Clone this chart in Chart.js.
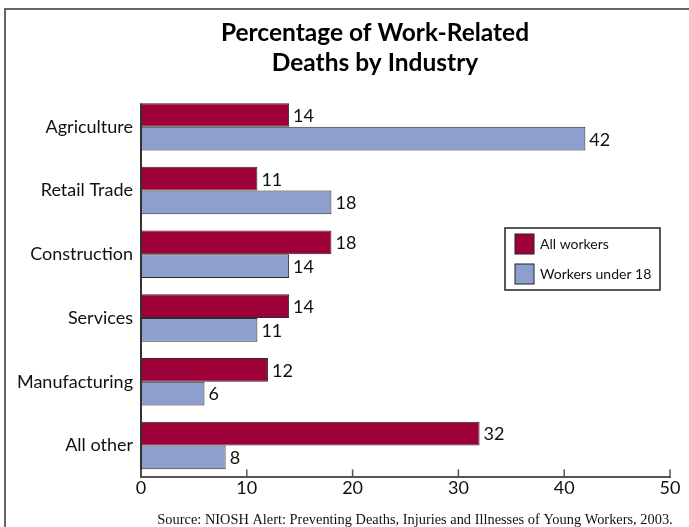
<!DOCTYPE html>
<html>
<head>
<meta charset="utf-8">
<script src="https://cdn.jsdelivr.net/npm/chart.js@4/dist/chart.umd.min.js"></script>
<style>
  html, body { margin: 0; padding: 0; background: #fff; }
  #wrap { width: 689px; height: 527px; position: relative; }
</style>
</head>
<body>
<div id="wrap"><canvas id="deathChart"></canvas></div>
<script>
const categories = ['Agriculture', 'Retail Trade', 'Construction', 'Services', 'Manufacturing', 'All other'];
const allWorkers = [14, 11, 18, 14, 12, 32];
const workersUnder18 = [42, 18, 14, 11, 6, 8];
const xTicks = [0, 10, 20, 30, 40, 50];

const titleLines = ['Percentage of Work-Related', 'Deaths by Industry'];
const sourceText = 'Source: NIOSH Alert: Preventing Deaths, Injuries and Illnesses of Young Workers, 2003.';

const FONT = 'Lato, "Open Sans", sans-serif';

// frame, title, legend, value labels, axis bits
const decor = {
  id: 'decor',
  beforeDraw(chart) {
    const ctx = chart.ctx;
    ctx.save();
    ctx.strokeStyle = '#666';
    ctx.lineWidth = 2;
    ctx.beginPath();
    ctx.moveTo(5, chart.height);
    ctx.lineTo(5, 9);
    ctx.lineTo(chart.width, 9);
    ctx.stroke();
    ctx.restore();
  },
  afterDatasetsDraw(chart) {
    const ctx = chart.ctx;
    const xs = chart.scales.x;
    const area = chart.chartArea;
    ctx.save();

    // values next to bars
    ctx.font = '18px ' + FONT;
    ctx.fillStyle = '#111';
    ctx.textBaseline = 'middle';
    ctx.textAlign = 'left';
    chart.data.datasets.forEach((ds, i) => {
      chart.getDatasetMeta(i).data.forEach((bar, j) => {
        ctx.fillText(ds.data[j], bar.x + 4, bar.y + 1);
      });
    });

    // y axis line starting at first bar
    const first = chart.getDatasetMeta(0).data[0];
    const x0 = xs.getPixelForValue(0);
    ctx.strokeStyle = '#333';
    ctx.lineWidth = 2;
    ctx.beginPath();
    ctx.moveTo(x0, first.y - first.height / 2);
    ctx.lineTo(x0, area.bottom);
    ctx.stroke();

    // tick marks pointing up
    ctx.strokeStyle = '#555';
    ctx.lineWidth = 1.5;
    xs.ticks.forEach(t => {
      const px = xs.getPixelForValue(t.value);
      ctx.beginPath();
      ctx.moveTo(px, area.bottom);
      ctx.lineTo(px, area.bottom - 8);
      ctx.stroke();
    });
    ctx.restore();
  },
  afterDraw(chart) {
    const ctx = chart.ctx;
    ctx.save();

    // title
    ctx.fillStyle = '#000';
    ctx.font = 'bold 24.5px ' + FONT;
    ctx.textAlign = 'center';
    ctx.textBaseline = 'middle';
    titleLines.forEach((line, i) => ctx.fillText(line, 375, 33 + i * 30));

    // legend
    ctx.strokeStyle = '#222';
    ctx.lineWidth = 1.5;
    ctx.fillStyle = '#fff';
    ctx.fillRect(505, 228, 155, 62);
    ctx.strokeRect(505, 228, 155, 62);
    ctx.font = '14px ' + FONT;
    ctx.textAlign = 'left';
    chart.data.datasets.forEach((ds, i) => {
      const y = 234 + i * 30;
      ctx.fillStyle = ds.backgroundColor;
      ctx.fillRect(515, y, 19, 20);
      ctx.lineWidth = 1;
      ctx.strokeStyle = '#222';
      ctx.strokeRect(515, y, 19, 20);
      ctx.fillStyle = '#111';
      ctx.fillText(ds.label, 540, y + 10);
    });

    // source
    ctx.font = '14.4px "Liberation Serif", serif';
    ctx.fillStyle = '#111';
    ctx.textAlign = 'center';
    ctx.fillText(sourceText, 415, 520);
    ctx.restore();
  }
};

const ctx = document.getElementById('deathChart').getContext('2d');
new Chart(ctx, {
  type: 'bar',
  data: {
    labels: categories,
    datasets: [
      {
        label: 'All workers',
        data: allWorkers,
        backgroundColor: '#9e0039',
        borderColor: '#2a2a2a',
        borderWidth: 1
      },
      {
        label: 'Workers under 18',
        data: workersUnder18,
        backgroundColor: '#8e9fcd',
        borderColor: '#2a2a2a',
        borderWidth: 1
      }
    ]
  },
  options: {
    indexAxis: 'y',
    responsive: true,
    maintainAspectRatio: false,
    animation: false,
    layout: { padding: { left: 4, right: 19, top: 95, bottom: 28 } },
    datasets: {
      bar: { categoryPercentage: 0.745, barPercentage: 1.0 }
    },
    scales: {
      x: {
        min: 0,
        max: 50,
        afterBuildTicks(scale) {
          scale.ticks = xTicks.map(v => ({ value: v }));
        },
        grid: { display: true, drawOnChartArea: false, drawTicks: false },
        border: { display: true, color: '#555', width: 2 },
        ticks: { font: { size: 18, family: FONT }, color: '#111', padding: 0 }
      },
      y: {
        afterFit(scale) { scale.width = 137; },
        grid: { display: false },
        border: { display: false },
        ticks: { font: { size: 18, family: FONT }, color: '#111', padding: 0 }
      }
    },
    plugins: {
      legend: { display: false },
      tooltip: { enabled: false }
    }
  },
  plugins: [decor]
});
</script>
</body>
</html>
